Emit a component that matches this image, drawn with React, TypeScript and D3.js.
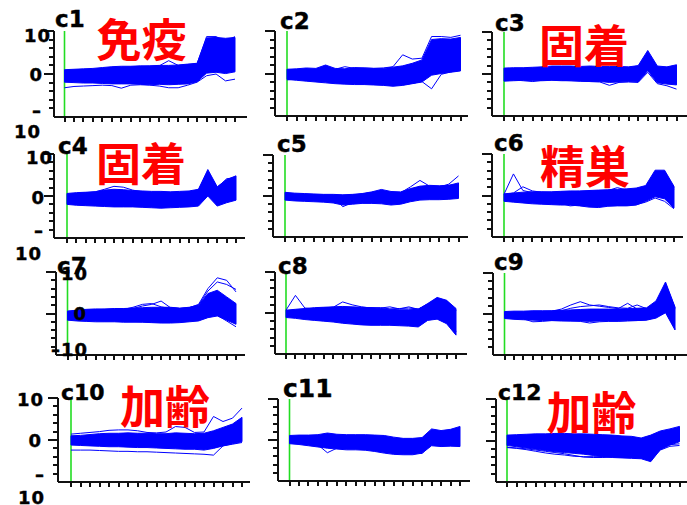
import React from "react";
import * as d3 from "d3";

// Sampling points shared by every cluster (x axis, one tick per point)
const timePoints = [1, 2, 3, 4, 5, 6, 7, 8, 9, 10, 11, 12, 13, 14, 15, 16, 17, 18, 19];

const clusterNames = ["c1", "c2", "c3", "c4", "c5", "c6", "c7", "c8", "c9", "c10", "c11", "c12"];
const tissueLabels = ["免疫", "", "固着", "固着", "", "精巣", "", "", "", "加齢", "", "加齢"];

const yTickLabels = ["10", "0", "-10"];
const yMajorTicks = [10, 0];
const yMinorTicks = [8, 6, 4, 2, -2, -4, -6, -8];

// Each cluster: upper and lower envelope of the bulk of its member profiles,
// plus the members that stray outside that envelope.
const c1Upper = [1.0, 1.1, 1.2, 1.3, 1.5, 1.7, 1.8, 1.8, 1.9, 1.9, 2.0, 2.0, 2.1, 2.3, 2.5, 8.4, 8.5, 8.3, 8.5];
const c1Lower = [-1.9, -2.0, -2.1, -2.1, -2.2, -2.3, -2.3, -2.3, -2.4, -2.5, -2.4, -2.5, -2.4, -2.3, -1.8, 0.2, 0.4, 0.1, 0.5];
const c1Outliers = [
  [-3.2, -2.9, -2.8, -2.7, -2.6, -2.7, -3.3, -2.6, -2.5, -2.6, -2.8, -3.2, -3.2, -2.6, -1.9, -0.4, 0.0, -1.6, -1.2],
  [0.8, 0.9, 1.0, 1.1, 1.2, 1.4, 1.5, 1.6, 1.7, 1.8, 1.9, 3.1, 2.0, 2.1, 2.4, 8.7, 8.7, 7.6, 8.7],
];

const c2Upper = [1.0, 1.1, 1.3, 1.2, 2.0, 1.2, 1.1, 1.4, 1.3, 1.2, 1.2, 1.5, 1.8, 2.4, 3.2, 8.0, 8.2, 8.1, 8.5];
const c2Lower = [-1.4, -1.6, -1.8, -2.0, -2.2, -2.4, -2.5, -2.6, -2.6, -2.7, -2.8, -3.0, -2.8, -2.4, -2.0, -0.4, 0.0, 0.3, 0.6];
const c2Outliers = [
  [0.8, 0.9, 1.0, 1.0, 1.0, 1.0, 1.6, 1.2, 1.3, 1.2, 1.3, 1.6, 4.4, 3.4, 3.6, 8.7, 8.7, 8.5, 9.0],
  [-1.5, -1.3, -1.4, -1.6, -1.8, -2.0, -2.1, -2.3, -2.4, -2.5, -2.6, -2.7, -2.6, -2.3, -1.9, -3.6, -0.2, 0.4, 0.8],
];

const c3Upper = [1.4, 1.5, 1.5, 1.6, 1.7, 1.9, 1.9, 1.9, 1.8, 1.9, 1.8, 1.8, 1.8, 1.7, 2.0, 5.6, 1.9, 1.7, 2.2];
const c3Lower = [-1.7, -1.6, -1.5, -1.6, -1.6, -1.5, -1.6, -1.6, -1.7, -1.8, -1.8, -2.0, -1.9, -1.8, -1.9, 0.8, -2.1, -2.4, -2.6];
const c3Outliers = [
  [-1.2, -1.4, -1.6, -1.8, -1.5, -1.4, -1.5, -1.6, -1.7, -1.8, -1.9, -2.7, -2.0, -1.9, -2.0, 0.4, -2.3, -2.8, -3.6],
];

const c4Upper = [0.6, 0.8, 0.9, 1.0, 1.4, 1.6, 1.5, 1.3, 1.2, 1.1, 1.1, 1.0, 1.1, 1.2, 1.6, 6.3, 2.2, 3.9, 4.8];
const c4Lower = [-2.0, -2.2, -2.3, -2.4, -2.5, -2.6, -2.6, -2.6, -2.7, -2.8, -2.9, -2.8, -2.7, -2.6, -2.4, 0.0, -2.4, -1.6, -1.0];
const c4Outliers = [
  [0.4, 0.6, 0.8, 1.0, 1.6, 2.3, 2.1, 1.4, 1.0, 0.9, 0.9, 0.8, 0.9, 1.0, 1.4, 5.8, 2.0, 4.1, 4.4],
];

const c5Upper = [0.9, 0.7, 0.6, 0.5, 0.4, 0.4, 0.3, 0.4, 0.6, 1.0, 1.6, 1.1, 1.0, 1.8, 2.4, 2.6, 2.5, 2.6, 3.2];
const c5Lower = [-1.0, -1.2, -1.3, -1.4, -1.5, -1.7, -2.2, -2.0, -1.8, -1.8, -1.9, -2.2, -2.0, -1.4, -1.0, -0.9, -0.9, -0.8, -0.6];
const c5Outliers = [
  [0.7, 0.5, 0.4, 0.3, 0.2, 0.1, 0.0, 0.2, 0.5, 0.9, 1.2, 0.8, 0.8, 2.2, 3.8, 2.4, 2.2, 2.6, 2.8],
  [0.5, 0.4, 0.2, 0.1, -0.1, -0.3, -2.6, -1.6, -1.2, -1.0, -0.8, -1.0, -0.8, 1.6, 2.2, 2.0, 2.2, 2.9, 4.9],
];

const c6Upper = [0.4, 0.6, 0.8, 0.9, 0.9, 0.9, 1.0, 1.1, 1.1, 1.2, 1.3, 1.4, 1.5, 1.6, 1.8, 2.4, 6.1, 6.1, 2.2];
const c6Lower = [-1.4, -1.6, -1.8, -2.0, -2.1, -2.2, -2.3, -2.3, -2.5, -2.8, -2.9, -2.6, -2.5, -2.5, -2.3, -1.4, -0.3, -0.8, -3.0];
const c6Outliers = [
  [0.3, 5.2, 1.2, 0.7, 0.6, 0.5, 0.6, 0.7, 0.8, 0.9, 1.0, 1.1, 1.2, 1.3, 1.4, 1.8, 5.6, 5.8, 1.8],
  [0.2, 0.6, 2.1, 1.1, 0.8, 0.7, 0.8, 0.9, 1.0, 1.0, 1.1, 1.2, 1.9, 1.3, 1.5, 2.0, 5.0, 5.4, 1.5],
  [-1.0, -1.1, -1.3, -1.4, -1.6, -1.7, -1.9, -2.5, -2.3, -2.4, -2.6, -2.4, -2.3, -2.3, -2.2, -1.6, -0.6, -1.4, -3.2],
];

const c7Upper = [0.6, 0.8, 1.0, 1.1, 1.1, 1.2, 1.2, 1.3, 1.4, 1.5, 1.5, 1.5, 1.3, 1.5, 2.0, 4.8, 5.6, 4.0, 2.4];
const c7Lower = [-1.6, -1.8, -1.9, -2.0, -2.0, -2.0, -2.1, -2.1, -2.1, -2.2, -2.3, -2.3, -2.2, -2.0, -1.8, -1.0, -0.6, -1.6, -2.6];
const c7Outliers = [
  [0.4, 0.6, 0.8, 0.9, 1.0, 1.0, 1.1, 1.2, 1.8, 2.2, 3.0, 1.4, 1.2, 1.4, 2.2, 6.0, 8.6, 8.0, 5.2],
  [0.2, 0.4, 0.6, 0.7, 0.8, 0.9, 1.0, 1.5, 2.2, 2.4, 1.6, 1.2, 1.0, 1.3, 2.0, 5.4, 7.6, 7.0, 5.8],
  [-1.2, -1.4, -1.6, -1.7, -1.8, -1.8, -1.9, -1.9, -2.0, -2.0, -2.1, -2.0, -1.9, -1.8, -1.6, 0.2, -0.4, -1.8, -3.2],
];

const c8Upper = [0.7, 0.9, 1.1, 1.3, 1.4, 1.5, 1.6, 1.5, 1.4, 1.3, 1.1, 0.9, 0.8, 0.8, 0.9, 2.3, 3.8, 3.1, 1.1];
const c8Lower = [-1.1, -1.3, -1.6, -1.8, -2.0, -2.2, -2.5, -2.7, -2.9, -3.0, -3.0, -3.0, -3.1, -3.2, -3.4, -1.8, -1.5, -2.6, -5.4];
const c8Outliers = [
  [0.7, 4.3, 1.2, 1.0, 1.2, 1.4, 2.7, 2.0, 1.5, 1.2, 1.3, 1.0, 1.1, 1.2, 1.0, 2.0, 3.6, 3.0, 0.6],
  [0.5, 0.7, 0.9, 1.1, 1.2, 1.3, 1.4, 1.3, 1.2, 1.3, 1.2, 1.5, 1.0, 1.5, 0.9, 2.2, 3.4, 2.8, -4.6],
];

const c9Upper = [0.6, 0.7, 0.7, 0.8, 0.8, 0.8, 0.9, 1.0, 1.1, 1.2, 1.2, 1.2, 1.2, 1.3, 1.4, 1.5, 3.2, 7.8, 1.7];
const c9Lower = [-1.1, -1.3, -1.4, -1.5, -1.6, -1.6, -1.7, -1.7, -1.7, -1.8, -1.7, -1.7, -1.7, -1.6, -1.6, -1.5, -1.0, 0.3, -3.9];
const c9Outliers = [
  [0.4, 0.5, 0.5, 0.6, 0.6, 0.7, 1.2, 2.2, 3.0, 2.2, 1.9, 1.6, 1.3, 2.6, 1.2, 1.1, 2.8, 7.4, 1.5],
  [0.3, 0.4, 0.4, 0.5, 0.5, 0.6, 0.8, 1.4, 1.8, 2.0, 2.2, 1.8, 1.5, 1.4, 2.2, 1.3, 2.4, 6.8, 1.2],
  [-0.9, -1.0, -1.2, -1.9, -1.8, -1.6, -1.6, -1.7, -1.8, -2.2, -1.9, -1.8, -1.8, -1.7, -1.6, -1.4, -0.8, 0.5, -3.5],
];

const c10Upper = [1.0, 1.1, 1.3, 1.5, 1.6, 1.6, 1.7, 1.6, 1.6, 1.5, 1.5, 1.7, 1.6, 1.5, 1.6, 2.2, 3.0, 3.8, 5.4];
const c10Lower = [-1.2, -1.3, -1.4, -1.5, -1.6, -1.6, -1.7, -1.8, -1.8, -1.9, -2.0, -2.1, -2.2, -2.2, -2.4, -2.0, -1.4, -0.9, -0.4];
const c10Outliers = [
  [-2.4, -2.4, -2.4, -2.5, -2.6, -2.7, -2.7, -2.8, -2.8, -2.9, -3.0, -3.1, -3.2, -3.3, -3.4, -3.6, -1.4, -1.0, -0.6],
  [1.4, 1.6, 1.8, 2.0, 2.3, 2.4, 2.4, 2.2, 1.8, 1.7, 1.9, 3.2, 3.0, 1.8, 1.9, 5.6, 4.4, 5.2, 7.6],
];

const c11Upper = [1.1, 1.2, 1.2, 1.3, 1.7, 1.4, 1.3, 1.3, 1.3, 1.2, 1.1, 0.7, 0.4, 0.4, 0.6, 2.7, 2.3, 2.6, 3.3];
const c11Lower = [-0.9, -1.1, -1.4, -1.7, -2.0, -2.2, -2.4, -2.4, -2.5, -2.8, -3.2, -3.5, -3.6, -3.6, -3.2, -1.4, -1.6, -1.5, -1.6];
const c11Outliers = [
  [0.2, 0.0, -0.4, -1.2, -3.1, -2.0, -1.8, -1.6, -1.7, -2.0, -2.4, -2.6, -2.8, -2.9, -3.3, -0.9, -1.0, -1.2, -1.3],
];

const c12Upper = [1.3, 1.4, 1.5, 1.6, 1.6, 1.7, 1.7, 1.6, 1.6, 1.5, 1.4, 1.3, 1.1, 1.0, 0.6, 1.3, 2.3, 2.8, 3.4];
const c12Lower = [-1.2, -1.5, -1.8, -2.1, -2.4, -2.7, -2.9, -3.1, -3.3, -3.6, -3.9, -4.1, -4.2, -4.3, -4.4, -5.1, -2.2, -1.1, -0.3];
const c12Outliers = [
  [-1.7, -1.9, -2.2, -2.6, -3.0, -3.3, -3.5, -3.8, -3.9, -3.9, -3.9, -3.8, -3.8, -3.7, -3.9, -4.2, -2.0, -1.0, -0.8],
  [-1.6, -1.8, -2.0, -2.3, -2.6, -2.9, -3.2, -3.6, -4.0, -4.1, -4.1, -4.0, -4.0, -4.1, -4.2, -4.6, -2.3, -1.4, -1.2],
];

const clusterUpper = [c1Upper, c2Upper, c3Upper, c4Upper, c5Upper, c6Upper, c7Upper, c8Upper, c9Upper, c10Upper, c11Upper, c12Upper];
const clusterLower = [c1Lower, c2Lower, c3Lower, c4Lower, c5Lower, c6Lower, c7Lower, c8Lower, c9Lower, c10Lower, c11Lower, c12Lower];
const clusterOutliers = [c1Outliers, c2Outliers, c3Outliers, c4Outliers, c5Outliers, c6Outliers, c7Outliers, c8Outliers, c9Outliers, c10Outliers, c11Outliers, c12Outliers];

// ---- layout ----
const W = 687;
const H = 505;
const BLUE = "#0000ff";
const GREEN = "#22dd22";
const LABEL_FONT = "'DejaVu Sans', 'Liberation Sans', sans-serif";
const CJK_FONT = "'Noto Sans CJK JP', 'Noto Sans CJK SC', sans-serif";

type Frame = { axisX: number; x0: number; x1: number; right: number; top: number; bottom: number };

const frames: Frame[] = [
  { axisX: 54, x0: 64.5, x1: 235, right: 247, top: 31, bottom: 117 },
  { axisX: 275, x0: 287, x1: 460.5, right: 468, top: 31, bottom: 116 },
  { axisX: 492, x0: 504, x1: 676.5, right: 687, top: 32, bottom: 116 },
  { axisX: 54, x0: 67, x1: 236, right: 245, top: 154, bottom: 238 },
  { axisX: 273, x0: 285, x1: 458.5, right: 468, top: 155, bottom: 237 },
  { axisX: 492, x0: 504, x1: 674, right: 683, top: 154, bottom: 237 },
  { axisX: 56, x0: 67.5, x1: 236, right: 245, top: 272, bottom: 355 },
  { axisX: 275, x0: 286, x1: 456, right: 467, top: 272, bottom: 354 },
  { axisX: 493, x0: 504.5, x1: 675, right: 687, top: 273, bottom: 355 },
  { axisX: 58, x0: 71, x1: 242, right: 250, top: 398, bottom: 482 },
  { axisX: 278, x0: 289.5, x1: 460, right: 470, top: 399, bottom: 481 },
  { axisX: 496, x0: 507, x1: 679.5, right: 687, top: 399, bottom: 482 },
];

// Cluster name position (left, baseline) and size
const namePos: [number, number, number][] = [
  [55, 27, 23], [280, 28.5, 23], [495, 30.5, 23],
  [58, 153.5, 23], [277, 152, 23], [494, 151, 23],
  [57, 273.5, 23], [278, 273.5, 23], [494, 269.5, 23],
  [61, 400, 22], [283, 397, 25], [498, 399.5, 22],
];

// Red annotation centres
const notePos: [number, number][] = [
  [141.5, 37.5], [0, 0], [584, 43.5],
  [141, 161.5], [0, 0], [585, 164.5],
  [0, 0], [0, 0], [0, 0],
  [165, 404], [0, 0], [591.5, 410],
];

// y tick label placement for the first column
type TickTextLayout = {
  ten: [number, number];
  zero: [number, number];
  minus: { dash: [number, number]; num: [number, number] } | null;
  minusInline?: [number, number];
};
const tickTextLayout: Record<number, TickTextLayout> = {
  0: { ten: [51, 42], zero: [43, 81], minus: { dash: [37, 117], num: [41, 138] } },
  3: { ten: [53, 164], zero: [45, 203.5], minus: { dash: [39, 237], num: [42, 260] } },
  6: { ten: [88, 279.5], zero: [87, 319.5], minus: null, minusInline: [88, 355.5] },
  9: { ten: [44, 406], zero: [42, 447], minus: { dash: [40, 480.5], num: [45, 503.5] } },
};

function Panel({ idx }: { idx: number }) {
  const f = frames[idx];
  const x = d3.scaleLinear().domain([timePoints[0], timePoints[timePoints.length - 1]]).range([f.x0, f.x1]);
  const y = d3.scaleLinear().domain([-10, 10]).range([f.bottom, f.top]);

  const upper = clusterUpper[idx];
  const lower = clusterLower[idx];
  const band = d3
    .area<number>()
    .x((_, i) => x(timePoints[i]))
    .y0((_, i) => y(lower[i]))
    .y1((_, i) => y(upper[i]));
  const line = d3
    .line<number>()
    .x((_, i) => x(timePoints[i]))
    .y((v) => y(v));

  const tl = tickTextLayout[idx];
  const [nx, ny, ns] = namePos[idx];
  const note = tissueLabels[idx];
  const [cx, cy] = notePos[idx];

  const tickText = {
    fontFamily: LABEL_FONT,
    fontWeight: 700,
    fontSize: 18,
    letterSpacing: "1px",
    fill: "#000",
    stroke: "#000",
    strokeWidth: 0.4,
  } as const;

  return (
    <g>
      {/* start-point marker */}
      <line x1={f.x0} x2={f.x0} y1={f.top} y2={f.bottom} stroke={GREEN} strokeWidth={1.6} />

      {/* profiles */}
      <path d={band(upper) ?? ""} fill={BLUE} stroke={BLUE} strokeWidth={1} />
      {clusterOutliers[idx].map((o, k) => (
        <path key={k} d={line(o) ?? ""} fill="none" stroke={BLUE} strokeWidth={1} />
      ))}

      {/* axes */}
      <g stroke="#111" strokeWidth={2} shapeRendering="crispEdges">
        <line x1={f.axisX} x2={f.axisX} y1={f.top} y2={f.bottom} />
        <line x1={f.axisX} x2={f.right} y1={f.bottom} y2={f.bottom} />
        {yMajorTicks.map((v) => (
          <line key={"M" + v} x1={f.axisX - 10} x2={f.axisX} y1={y(v)} y2={y(v)} />
        ))}
        {yMinorTicks.map((v) => (
          <line key={"m" + v} x1={f.axisX - 5} x2={f.axisX} y1={y(v)} y2={y(v)} />
        ))}
        {timePoints.map((t) => (
          <line key={"x" + t} x1={x(t)} x2={x(t)} y1={f.bottom} y2={f.bottom + 5} />
        ))}
      </g>

      {/* y tick labels (first column only) */}
      {tl && (
        <g style={tickText}>
          <text x={tl.ten[0]} y={tl.ten[1]} textAnchor="end">{yTickLabels[0]}</text>
          <text x={tl.zero[0]} y={tl.zero[1]} textAnchor="end">{yTickLabels[1]}</text>
          {tl.minus && (
            <>
              <text x={tl.minus.dash[0]} y={tl.minus.dash[1]} textAnchor="middle">–</text>
              <text x={tl.minus.num[0]} y={tl.minus.num[1]} textAnchor="end">{yTickLabels[2].slice(1)}</text>
            </>
          )}
          {tl.minusInline && (
            <text x={tl.minusInline[0]} y={tl.minusInline[1]} textAnchor="end">
              {"–" + yTickLabels[2].slice(1)}
            </text>
          )}
        </g>
      )}

      {/* cluster name */}
      <text
        x={nx}
        y={ny}
        fontFamily={LABEL_FONT}
        fontWeight={700}
        fontSize={ns}
        fill="#000"
        stroke="#000"
        strokeWidth={0.4}
      >
        {clusterNames[idx]}
      </text>

      {note && (
        <text
          x={cx}
          y={cy}
          textAnchor="middle"
          dominantBaseline="central"
          fontFamily={CJK_FONT}
          fontWeight={700}
          fontSize={45}
          fill="#ff0000"
        >
          {note}
        </text>
      )}
    </g>
  );
}

export default function App() {
  return (
    <svg
      width={W}
      height={H}
      viewBox={`0 0 ${W} ${H}`}
      style={{ position: "absolute", left: 0, top: 0, background: "#fff" }}
    >
      <rect width={W} height={H} fill="#fff" />
      {clusterNames.map((_, i) => (
        <Panel key={i} idx={i} />
      ))}
    </svg>
  );
}
